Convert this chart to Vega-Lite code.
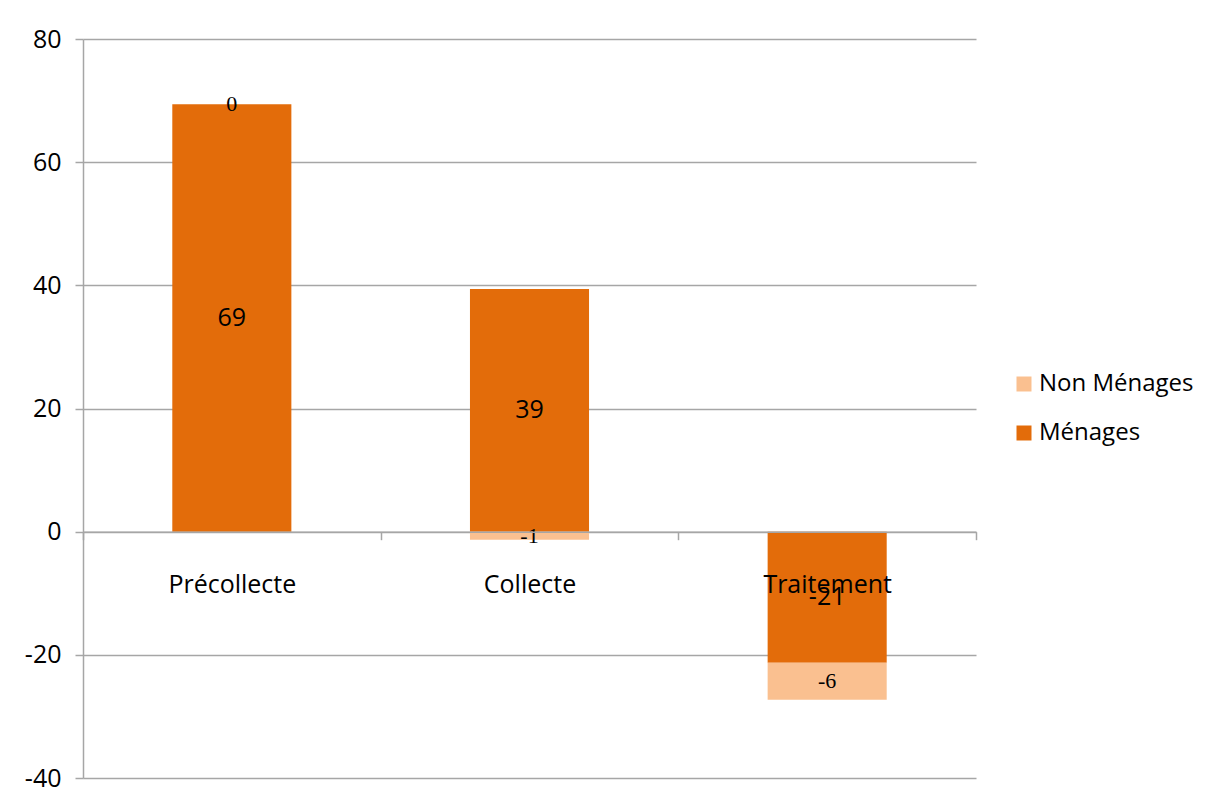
{
  "$schema": "https://vega.github.io/schema/vega-lite/v6.json",
  "width": 893,
  "height": 739,
  "autosize": {"type": "none"},
  "padding": {"left": 83, "top": 39, "right": 234, "bottom": 20},
  "background": "white",
  "config": {"view": {"stroke": null}, "font": "Open Sans"},
  "data": {"values": [
    {"category": "Précollecte", "series": "Ménages", "value": 69.4},
    {"category": "Précollecte", "series": "Non Ménages", "value": 0},
    {"category": "Collecte", "series": "Ménages", "value": 39.4},
    {"category": "Collecte", "series": "Non Ménages", "value": -1.3},
    {"category": "Traitement", "series": "Ménages", "value": -21.3},
    {"category": "Traitement", "series": "Non Ménages", "value": -6.0}
  ]},
  "transform": [
    {"stack": "value", "groupby": ["category"], "sort": [{"field": "series", "order": "ascending"}], "as": ["v0", "v1"]},
    {"calculate": "(datum.v0 + datum.v1) / 2", "as": "mid"},
    {"calculate": "replace(format(datum.value, '.0f'), '\u2212', '-')", "as": "lbl"}
  ],
  "encoding": {
    "x": {
      "field": "category", "type": "nominal",
      "sort": ["Précollecte", "Collecte", "Traitement"],
      "scale": {"paddingInner": 0, "paddingOuter": 0},
      "axis": {
        "orient": "bottom", "offset": -246.3, "title": null, "labelAngle": 0,
        "tickBand": "extent", "tickSize": 8, "tickColor": "#a6a6a6", "tickWidth": 1.5,
        "domainColor": "#a6a6a6", "domainWidth": 1.5,
        "labelFontSize": 25, "labelPadding": 33, "labelColor": "#000000",
        "labelFont": "Open Sans", "zindex": 1, "grid": false
      }
    }
  },
  "layer": [
    {
      "mark": {"type": "bar", "width": {"band": 0.4}},
      "encoding": {
        "y": {
          "field": "v0", "type": "quantitative",
          "scale": {"domain": [-40, 80], "nice": false, "zero": false},
          "axis": {
            "title": null, "values": [-40, -20, 0, 20, 40, 60, 80],
            "labelExpr": "replace(datum.label, '\u2212', '-')",
            "grid": true, "gridColor": "#a6a6a6", "gridWidth": 1.5,
            "domainColor": "#a6a6a6", "domainWidth": 1.5,
            "tickColor": "#a6a6a6", "tickWidth": 1.5, "tickSize": 8,
            "labelFontSize": 25, "labelPadding": 14, "labelColor": "#000000",
            "labelFont": "Open Sans"
          }
        },
        "y2": {"field": "v1"},
        "color": {
          "field": "series", "type": "nominal",
          "scale": {"domain": ["Non Ménages", "Ménages"], "range": ["#FAC090", "#E36C0A"]},
          "legend": {
            "title": null, "orient": "none", "legendX": 929, "legendY": 333,
            "padding": 0, "symbolType": "square", "symbolSize": 225,
            "symbolStrokeWidth": 0, "labelFontSize": 24, "labelFont": "Open Sans",
            "labelColor": "#000000", "labelOffset": 3, "rowPadding": 25,
            "labelLimit": 300
          }
        }
      }
    },
    {
      "transform": [{"filter": "datum.series === 'Ménages'"}],
      "mark": {"type": "text", "font": "Open Sans", "fontSize": 25, "color": "#000000", "baseline": "middle"},
      "encoding": {
        "y": {"field": "mid", "type": "quantitative"},
        "text": {"field": "lbl", "type": "nominal"}
      }
    },
    {
      "transform": [{"filter": "datum.series === 'Non Ménages'"}],
      "mark": {"type": "text", "font": "Liberation Serif", "fontSize": 22, "color": "#000000", "baseline": "middle"},
      "encoding": {
        "y": {"field": "mid", "type": "quantitative"},
        "text": {"field": "lbl", "type": "nominal"}
      }
    }
  ]
}
